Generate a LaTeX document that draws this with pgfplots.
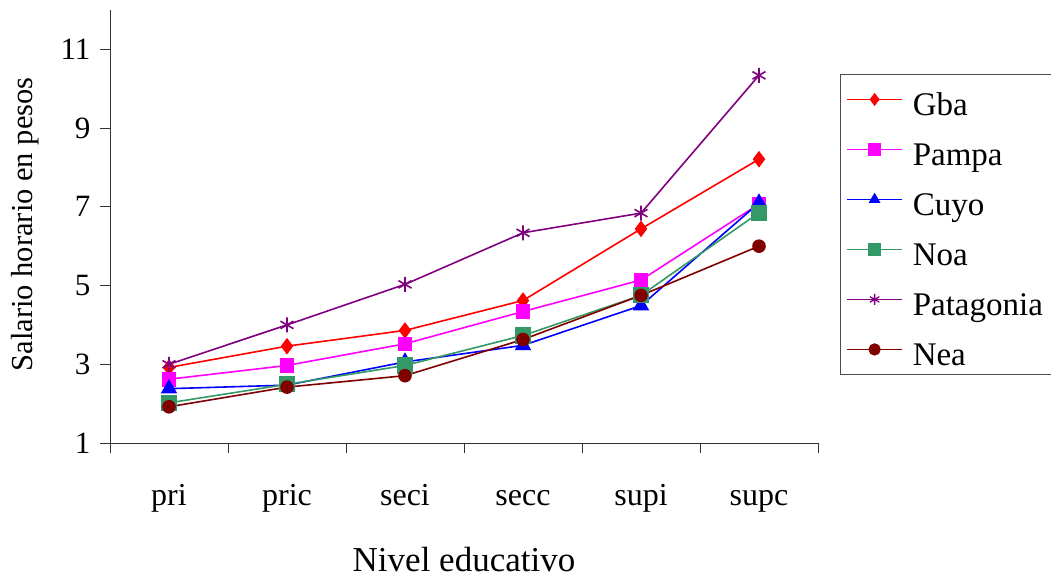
\documentclass[border=0pt]{standalone}
\usepackage{pgfplots}
\pgfplotsset{compat=1.18}
\usepackage{fontspec}
\setmainfont{Liberation Serif}
\definecolor{cGba}{RGB}{255,0,0}
\definecolor{cPampa}{RGB}{255,0,255}
\definecolor{cCuyo}{RGB}{0,0,255}
\definecolor{cNoa}{RGB}{51,153,102}
\definecolor{cPat}{RGB}{128,0,128}
\definecolor{cNea}{RGB}{128,0,0}
\begin{document}
\begin{tikzpicture}
\useasboundingbox (-110pt,-138pt) rectangle (941pt,443pt);
\begin{axis}[
  at={(0,0)}, anchor=south west,
  scale only axis, width=708pt, height=433pt,
  xmin=-0.5, xmax=5.5, ymin=1, ymax=12,
  axis x line*=bottom, axis y line*=left,
  axis line style={-, black!80, line width=0.9pt},
  xtick={0,1,2,3,4,5},
  xticklabels={pri,pric,seci,secc,supi,supc},
  major x tick style={draw=none},
  minor xtick={-0.5,0.5,1.5,2.5,3.5,4.5,5.5},
  minor x tick style={black!80, line width=0.9pt},
  minor tick length=10pt,
  ytick={1,3,5,7,9,11},
  major tick length=10pt,
  y tick style={black!80, line width=0.9pt},
  tick align=outside,
  /pgf/number format/assume math mode=true,
  tick label style={font=\rmfamily\fontsize{32}{36}\selectfont},
  yticklabel style={font=\rmfamily\fontsize{31}{36}\selectfont, anchor=east, xshift=-6pt},
  xticklabel style={anchor=base, yshift=-52pt},
  xlabel={Nivel educativo},
  ylabel={Salario horario en pesos},
  xlabel style={font=\rmfamily\fontsize{35}{38}\selectfont, at={(axis description cs:0.5,-0.27)}, anchor=center},
  ylabel style={font=\rmfamily\fontsize{30.5}{34}\selectfont, at={(axis description cs:-0.12,0.505)}, anchor=center},
  every axis plot/.append style={line width=1.6pt, mark options={solid}},
  legend cell align=left,
  legend image code/.code={%
    \draw[mark repeat=2,mark phase=2, line width=1.3pt, mark size=5.5pt] plot coordinates {(0pt,0pt)(27.5pt,0pt)(55pt,0pt)};},
  legend style={at={(1,1)}, anchor=north west, xshift=22pt, yshift=-64pt,
    draw=black!70, line width=0.9pt,
    inner xsep=6pt, inner ysep=3pt,
    row sep=6pt,
    font=\rmfamily\fontsize{33}{36}\selectfont,
    nodes={inner xsep=5pt, inner ysep=0pt, text height=38pt, text depth=6pt}},
]
\addplot[color=cGba, mark=diamond*, mark size=7pt] coordinates {(0,2.92) (1,3.46) (2,3.86) (3,4.62) (4,6.44) (5,8.21)};
\addlegendentry{\hspace{5pt}Gba}
\addplot[color=cPampa, mark=square*, mark size=6.5pt] coordinates {(0,2.62) (1,2.97) (2,3.52) (3,4.34) (4,5.14) (5,7.07)};
\addlegendentry{\hspace{5pt}Pampa}
\addplot[color=cCuyo, mark=triangle*, mark size=8pt] coordinates {(0,2.38) (1,2.47) (2,3.06) (3,3.48) (4,4.49) (5,7.1)};
\addlegendentry{\hspace{5pt}Cuyo}
\addplot[color=cNoa, mark=square*, mark size=7.3pt] coordinates {(0,2.02) (1,2.49) (2,2.97) (3,3.73) (4,4.75) (5,6.85)};
\addlegendentry{\hspace{5pt}Noa}
\addplot[color=cPat, mark=asterisk, mark size=7.5pt] coordinates {(0,3.0) (1,4.0) (2,5.03) (3,6.34) (4,6.84) (5,10.34)};
\addlegendentry{\hspace{5pt}Patagonia}
\addplot[color=cNea, mark=*, mark size=6pt] coordinates {(0,1.92) (1,2.42) (2,2.71) (3,3.63) (4,4.75) (5,6.0)};
\addlegendentry{\hspace{5pt}Nea}
\end{axis}
\end{tikzpicture}
\end{document}
